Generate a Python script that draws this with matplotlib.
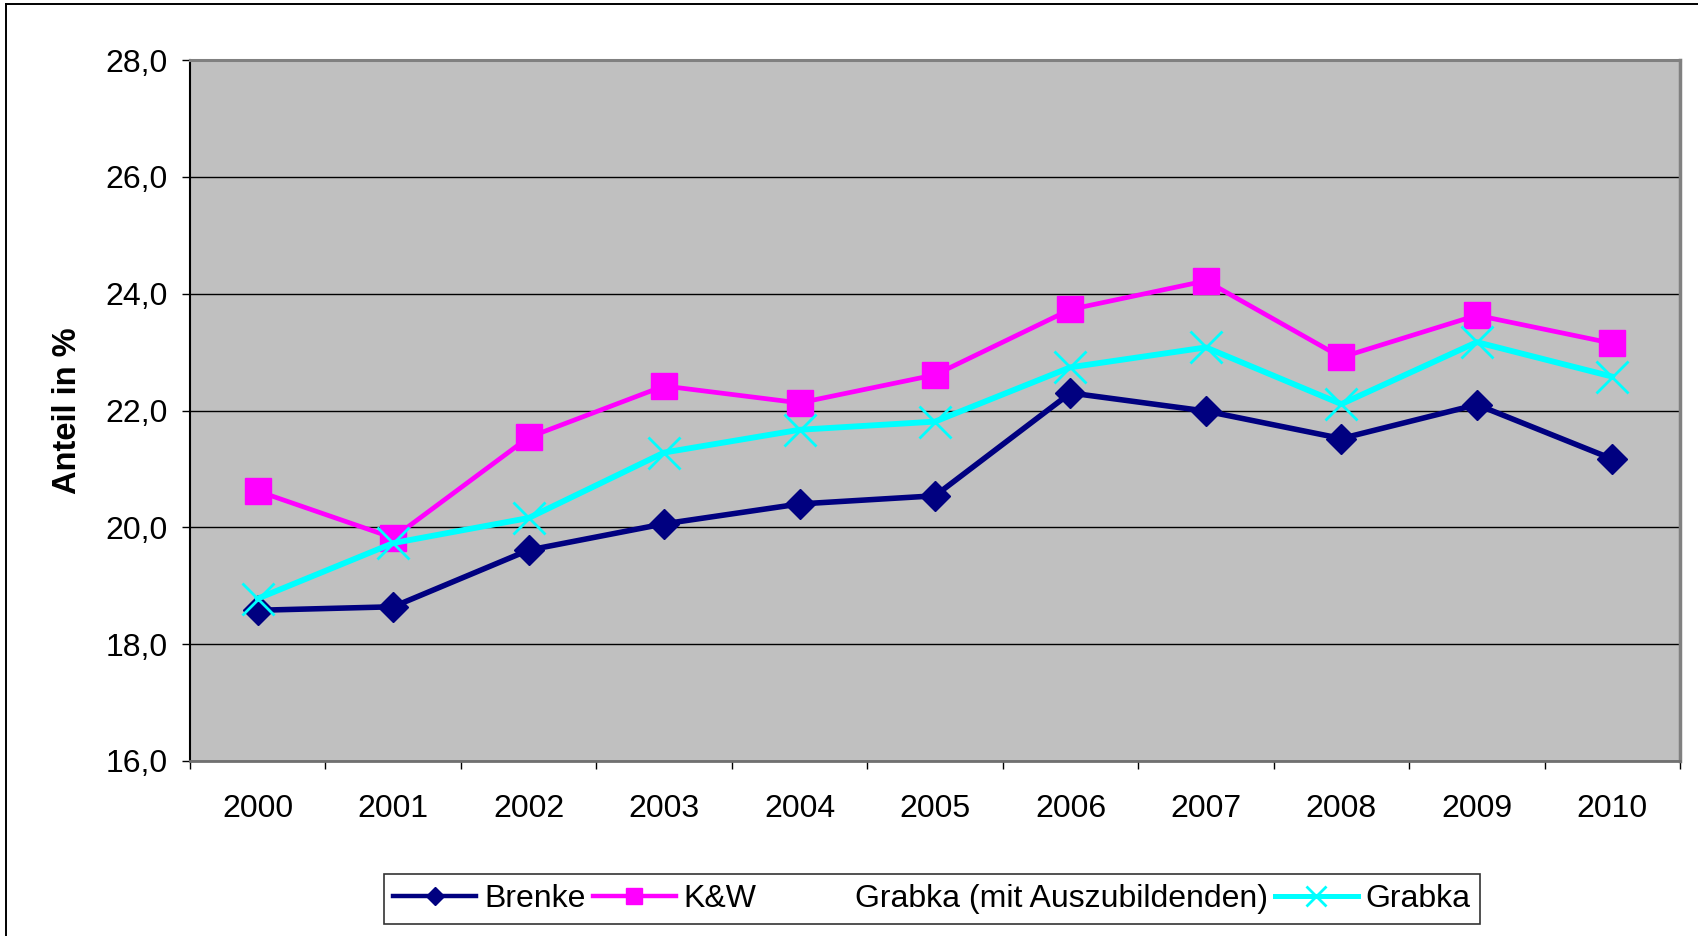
import matplotlib
matplotlib.use("Agg")
import matplotlib.pyplot as plt
from matplotlib.lines import Line2D

plt.rcParams['font.family'] = ['Liberation Sans', 'DejaVu Sans']

years = ['2000', '2001', '2002', '2003', '2004', '2005', '2006', '2007', '2008', '2009', '2010']
brenke = [18.58, 18.64, 19.61, 20.06, 20.40, 20.54, 22.30, 21.99, 21.52, 22.10, 21.17]
kw = [20.62, 19.82, 21.54, 22.42, 22.13, 22.61, 23.73, 24.22, 22.91, 23.63, 23.15]
grabka = [18.78, 19.73, 20.16, 21.28, 21.67, 21.81, 22.74, 23.08, 22.11, 23.17, 22.58]
grabka_azubi = []  # no visible values in the chart
yticks = [16.0, 18.0, 20.0, 22.0, 24.0, 26.0, 28.0]
ytick_labels = ['16,0', '18,0', '20,0', '22,0', '24,0', '26,0', '28,0']
series_names = ['Brenke', 'K&W', 'Grabka (mit Auszubildenden)', 'Grabka']

W, H = 1699, 936
fig = plt.figure(figsize=(W / 100, H / 100), dpi=100)
fig.patch.set_facecolor('white')

# outer chart frame (left and top edges visible)
fig.add_artist(Line2D([6.5 / W, 6.5 / W], [0, 1 - 3.5 / H], transform=fig.transFigure,
                      color='black', lw=1.4))
fig.add_artist(Line2D([6.5 / W, 1], [1 - 3.5 / H, 1 - 3.5 / H], transform=fig.transFigure,
                      color='black', lw=1.4))

ax = fig.add_axes([190 / W, (H - 761) / H, 1490 / W, 701 / H])
ax.set_facecolor('#C0C0C0')

NAVY, MAG, CYAN = '#000080', '#FF00FF', '#00FFFF'
x = list(range(len(years)))
ax.plot(x, brenke, color=NAVY, lw=4.0, marker='D', ms=15.5,
        markerfacecolor=NAVY, markeredgecolor=NAVY, zorder=3, clip_on=False)
ax.plot(x, kw, color=MAG, lw=3.4, marker='s', ms=19,
        markerfacecolor=MAG, markeredgecolor=MAG, zorder=4, clip_on=False)
ax.plot(x, grabka, color=CYAN, lw=4.2, marker='x', ms=23, markeredgewidth=2.0,
        markeredgecolor=CYAN, zorder=5, clip_on=False)

ax.set_xlim(-0.5, len(years) - 0.5)
ax.set_ylim(16, 28)
ax.set_yticks(yticks)
ax.set_yticklabels(ytick_labels)
ax.set_xticks(x)
ax.set_xticklabels(years)
ax.set_xticks([i - 0.5 for i in range(len(years) + 1)], minor=True)

ax.tick_params(axis='x', which='major', length=0, pad=24, labelsize=23)
ax.tick_params(axis='x', which='minor', length=6, width=1, direction='out', color='black')
ax.tick_params(axis='y', which='major', length=6, width=1, direction='out', pad=10,
               labelsize=23, color='black')

ax.yaxis.grid(True, color='black', lw=1)
ax.set_axisbelow(True)

ax.spines['left'].set_color('black')
ax.spines['left'].set_linewidth(1.5)
ax.spines['bottom'].set_color('#707070')
ax.spines['bottom'].set_linewidth(2)
ax.spines['top'].set_color('#808080')
ax.spines['top'].set_linewidth(2.2)
ax.spines['right'].set_color('#808080')
ax.spines['right'].set_linewidth(2.5)

fig.text(68 / W, 1 - 411 / H, 'Anteil in %', rotation=90, ha='center', va='center',
         fontsize=23.5, fontweight='bold')

handles = [
    Line2D([], [], color=NAVY, lw=3.2, marker='D', ms=15.5,
           markerfacecolor=NAVY, markeredgecolor=NAVY),
    Line2D([], [], color=MAG, lw=3.2, marker='s', ms=19,
           markerfacecolor=MAG, markeredgecolor=MAG),
    Line2D([], [], color='none', lw=0),
    Line2D([], [], color=CYAN, lw=3.6, marker='x', ms=23, markeredgewidth=2.0,
           markeredgecolor=CYAN),
]
leg = fig.legend(handles, series_names, loc='center', bbox_to_anchor=(932 / W, 1 - 899 / H),
                 ncol=4, fontsize=23, frameon=True, fancybox=False, edgecolor='black',
                 handlelength=2.6, handletextpad=0.25, columnspacing=0.22, borderpad=0.3,
                 markerscale=0.6, borderaxespad=0)
leg.get_frame().set_linewidth(1.2)

fig.savefig('out.png', dpi=100)
